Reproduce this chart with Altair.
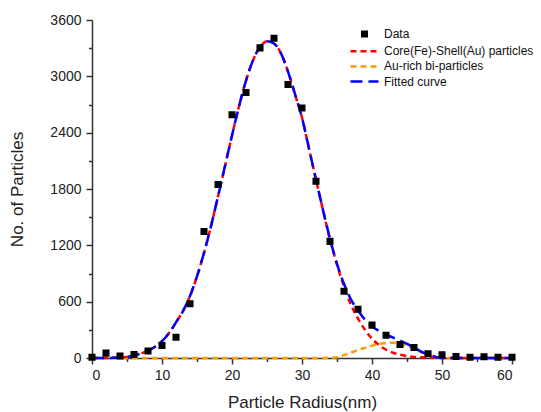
import altair as alt
import pandas as pd

# Measured histogram points
radius = list(range(0, 61, 2))
counts = [9, 52, 22, 38, 74, 134, 222, 578, 1347, 1848, 2591, 2828, 3303, 3405,
          2913, 2662, 1883, 1242, 710, 520, 350, 243, 144, 112, 45, 34, 16, 9, 14, 9, 9]

# Curves (1 nm steps, 0..60)
curve_x = list(range(0, 61))
core_shell = [0, 0, 0, 2, 5, 12, 28, 48, 78, 120,
              180, 265, 380, 500, 660, 870, 1120, 1405, 1720, 2045,
              2370, 2680, 2955, 3170, 3312, 3374, 3350, 3245, 3050, 2810,
              2560, 2230, 1900, 1575, 1265, 995, 760, 565, 420, 300,
              205, 138, 88, 56, 35, 21, 12, 7, 4, 2,
              1, 0, 0, 0, 0, 0, 0, 0, 0, 0, 0]
au_rich = [0, 0, 0, 0, 0, 0, 0, 0, 0, 0,
           0, 0, 0, 0, 0, 0, 0, 0, 0, 0,
           0, 0, 0, 0, 0, 0, 0, 0, 0, 0,
           0, 0, 0, 1, 3, 7, 30, 58, 85, 108,
           132, 150, 160, 162, 152, 130, 100, 62, 35, 12,
           0, 0, 0, 0, 0, 0, 0, 0, 0, 0, 0]
fitted = [0, 0, 0, 2, 5, 12, 28, 48, 78, 120,
          180, 265, 380, 500, 660, 870, 1120, 1405, 1720, 2045,
          2370, 2680, 2955, 3170, 3312, 3374, 3350, 3245, 3050, 2810,
          2560, 2230, 1900, 1576, 1268, 1002, 790, 623, 505, 408,
          337, 288, 248, 218, 187, 151, 112, 69, 39, 14,
          0, 0, 0, 0, 0, 0, 0, 0, 0, 0, 0]

series_names = ["Data", "Core(Fe)-Shell(Au) particles", "Au-rich bi-particles", "Fitted curve"]
series_colors = ["#000000", "#FF0000", "#FF9A00", "#0000FF"]
series_dash = [[1, 0], [6, 4], [6, 4], [12, 6]]
square_path = "M-0.65,-0.65H0.65V0.65H-0.65Z"
line_path = "M-4,0H4"
series_shapes = [square_path, line_path, line_path, line_path]

pts = pd.DataFrame({"x": radius, "y": counts, "series": "Data"})
curves = pd.concat([
    pd.DataFrame({"x": curve_x, "y": au_rich, "series": series_names[2]}),
    pd.DataFrame({"x": curve_x, "y": core_shell, "series": series_names[1]}),
    pd.DataFrame({"x": curve_x, "y": fitted, "series": series_names[3]}),
])

FONT = "Liberation Sans"

legend = alt.Legend(orient="none", legendX=266.5, legendY=8, title=None,
                    labelFont=FONT, labelFontSize=12, labelColor="#111", labelLimit=0,
                    symbolSize=49, symbolStrokeWidth=2.5, labelOffset=13.5,
                    rowPadding=3.2, padding=0)

color = alt.Color("series:N", scale=alt.Scale(domain=series_names, range=series_colors), legend=legend)
dash = alt.StrokeDash("series:N", scale=alt.Scale(domain=series_names, range=series_dash), legend=legend)
shape = alt.Shape("series:N", scale=alt.Scale(domain=series_names, range=series_shapes), legend=legend)

xenc = alt.X("x:Q", scale=alt.Scale(domain=[0, 60], nice=False),
             axis=alt.Axis(title="Particle Radius(nm)", values=list(range(0, 61, 5)),
                           labelExpr="datum.value % 10 === 0 ? datum.label : ''",
                           tickSize={"condition": {"test": "datum.value % 10 === 0", "value": 6}, "value": 3.5},
                           labelPadding=4, titlePadding=12))
yenc = alt.Y("y:Q", scale=alt.Scale(domain=[0, 3600], nice=False),
             axis=alt.Axis(title="No. of Particles", values=list(range(0, 3601, 300)), format="d",
                           labelExpr="datum.value % 600 === 0 ? datum.label : ''",
                           tickSize={"condition": {"test": "datum.value % 600 === 0", "value": 6}, "value": 3.5},
                           labelPadding=5, titlePadding=23))

layers = []
for name in [series_names[2], series_names[1], series_names[3]]:
    layers.append(
        alt.Chart(curves).transform_filter(alt.datum.series == name)
        .mark_line(strokeWidth=2.5, interpolate="monotone")
        .encode(x=xenc, y=yenc, color=color, strokeDash=dash)
    )

points = alt.Chart(pts).mark_point(filled=True, size=49, stroke="black", strokeWidth=2.5, opacity=1).encode(
    x=xenc, y=yenc, color=color, shape=shape)

chart = alt.layer(*layers, points).properties(
    width=420, height=338,
    autosize=alt.AutoSizeParams(type="none"),
    padding={"left": 84, "top": 12, "right": 21, "bottom": 54},
).configure_view(stroke=None).configure_axis(
    grid=False, domainColor="#333", tickColor="#333", domainWidth=1.5, tickWidth=1.5,
    labelFont=FONT, labelFontSize=14, labelColor="#222",
    titleFont=FONT, titleFontSize=17, titleFontWeight="normal", titleColor="#222",
)

chart.save("out.html", embed_options={"renderer": "svg", "actions": False})
